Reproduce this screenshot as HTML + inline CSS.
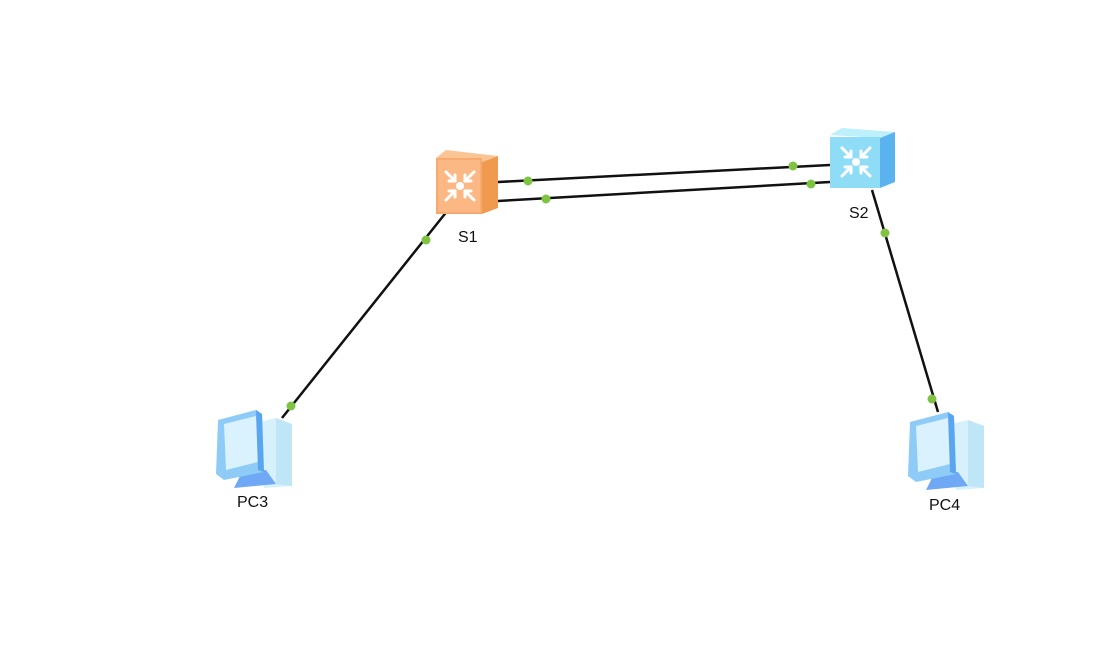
<!DOCTYPE html>
<html><head><meta charset="utf-8"><style>
html,body{margin:0;padding:0;background:#fff;}
svg{display:block;}
text{font-family:"Liberation Sans",Arial,sans-serif;font-size:16px;fill:#111;}
</style></head><body>
<svg width="1101" height="655" viewBox="0 0 1101 655">
<defs>
<g id="arrows" stroke="#fff" stroke-width="3" fill="none" stroke-linecap="round">
  <path d="M-14,-14 L-5,-5 M-5,-11 L-5,-5 L-11,-5"/>
  <path d="M14,-14 L5,-5 M5,-11 L5,-5 L11,-5"/>
  <path d="M-14,14 L-5,5 M-5,11 L-5,5 L-11,5"/>
  <path d="M14,14 L5,5 M5,11 L5,5 L11,5"/>
  <circle cx="0" cy="0" r="4" fill="#fff" stroke="none"/>
</g>
<g id="pc">
  <path d="M44,12 L62,8 L78,14 L78,76 L50,78 Z" fill="#d6f1fb"/>
  <path d="M62,8 L78,14 L78,76 L62,74 Z" fill="#bfe6f7"/>
  <path d="M28,62 L52,60 L62,74 L20,78 Z" fill="#6fa8f5"/>
  <path d="M4,10 L42,0 L48,4 L50,62 L10,70 L2,64 Z" fill="#8ecbf7"/>
  <path d="M10,14 L42,6 L44,52 L12,60 Z" fill="#d9f2fd"/>
  <path d="M42,0 L48,4 L50,62 L44,60 Z" fill="#5aa5f0"/>
</g>
</defs>
<g stroke="#111" stroke-width="2.5" fill="none">
  <line x1="498" y1="182" x2="830" y2="165"/>
  <line x1="498" y1="201" x2="830" y2="182"/>
  <line x1="448" y1="210" x2="282" y2="418"/>
  <line x1="872" y1="190" x2="938" y2="412"/>
</g>
<path d="M436,158 L446,150 L498,156 L482,162 Z" fill="#fbc494"/>
<path d="M482,162 L498,156 L498,208 L482,214 Z" fill="#f09a50"/>
<rect x="436" y="158" width="46" height="56" fill="#f8aa6e"/>
<rect x="438" y="160" width="42" height="52" fill="#fbb884"/>
<g transform="translate(460,186)"><use href="#arrows"/></g>
<path d="M830,135 L842,128 L895,132 L880,138 Z" fill="#bdf0fb"/>
<path d="M880,138 L895,132 L895,182 L880,188 Z" fill="#5ab3ee"/>
<rect x="830" y="137" width="50" height="51" fill="#8fdcf6"/>
<g transform="translate(856,162)"><use href="#arrows"/></g>
<g transform="translate(214,410)"><use href="#pc"/></g>
<g transform="translate(906,412)"><use href="#pc"/></g>
<g fill="#80c342">
  <circle cx="528" cy="181" r="4.5"/><circle cx="793" cy="166" r="4.5"/>
  <circle cx="546" cy="199" r="4.5"/><circle cx="811" cy="184" r="4.5"/>
  <circle cx="426" cy="240" r="4.5"/><circle cx="291" cy="406" r="4.5"/>
  <circle cx="885" cy="233" r="4.5"/><circle cx="932" cy="399" r="4.5"/>
</g>
<text x="458" y="242">S1</text>
<text x="849" y="218">S2</text>
<text x="237" y="507">PC3</text>
<text x="929" y="510">PC4</text>
</svg>
</body></html>
